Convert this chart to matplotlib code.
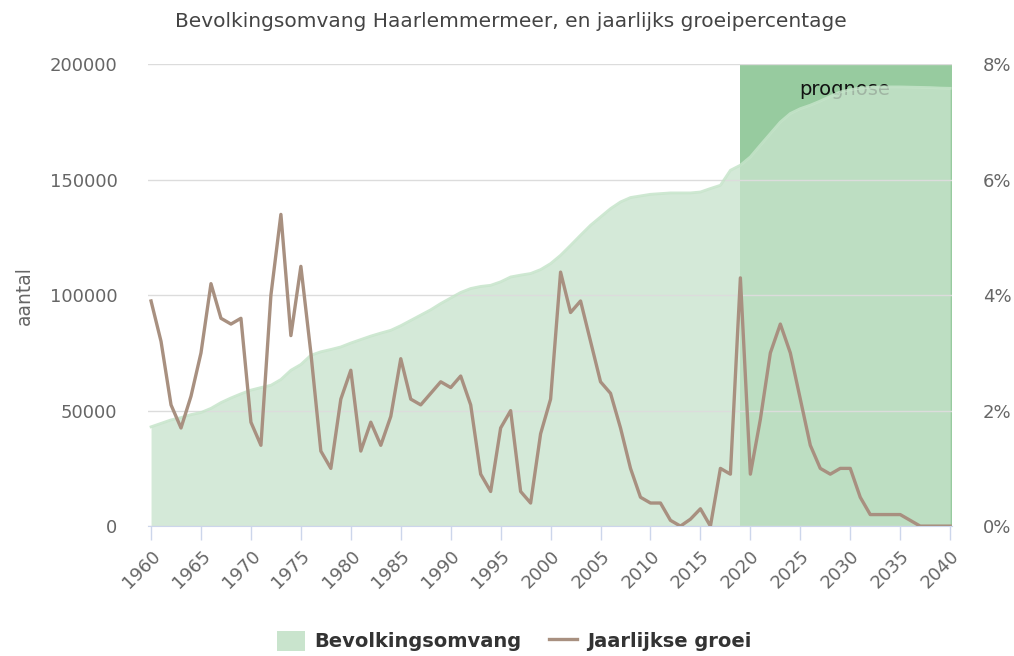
import matplotlib
matplotlib.use("Agg")
from matplotlib import pyplot as plt
from matplotlib.patches import Patch
from matplotlib.lines import Line2D

years = list(range(1960, 2041))

inwoners = [
    43000, 44500, 46000, 47000, 48300, 49200, 51000, 53500, 55500, 57300,
    58900, 60000, 61000, 63500, 67500, 70000, 74000, 75500, 76500, 77600,
    79300, 80800, 82300, 83600, 84800, 86800, 89100, 91400, 93700, 96400,
    98800, 101200, 102900, 103800, 104300, 105800, 107900, 108700, 109400, 111100,
    113700, 117300, 121600, 126000, 130300, 133900, 137500, 140400, 142300, 143000,
    143700, 144000, 144300, 144300, 144300, 144700, 146200, 147600, 154100, 156300,
    159900, 165000, 170000, 175000, 178700, 180800, 182300, 184100, 186100, 188000,
    189000, 189700, 190000, 190200, 190200, 190200, 190100, 190000, 189900, 189700,
    189600,
]

groei = [
    3.9, 3.2, 2.1, 1.7, 2.25, 3.0, 4.2, 3.6, 3.5, 3.6,
    1.8, 1.4, 4.0, 5.4, 3.3, 4.5, 3.0, 1.3, 1.0, 2.2,
    2.7, 1.3, 1.8, 1.4, 1.9, 2.9, 2.2, 2.1, 2.3, 2.5,
    2.4, 2.6, 2.1, 0.9, 0.6, 1.7, 2.0, 0.6, 0.4, 1.6,
    2.2, 4.4, 3.7, 3.9, 3.2, 2.5, 2.3, 1.7, 1.0, 0.5,
    0.4, 0.4, 0.1, 0.0, 0.12, 0.3, 0.0, 1.0, 0.9, 4.3,
    0.9, 1.85, 3.0, 3.5, 3.0, 2.2, 1.4, 1.0, 0.9, 1.0,
    1.0, 0.5, 0.2, 0.2, 0.2, 0.2, 0.1, 0.0, 0.0, 0.0,
    0.0,
]

prognose_start = 2019
y_ticks = [0, 50000, 100000, 150000, 200000]
pct_ticks = [0, 2, 4, 6, 8]

tick_grey = "#666666"
font = "DejaVu Sans"

fig = plt.figure(figsize=(10.14, 6.56), dpi=100)
ax = fig.add_axes([0.146, 0.198, 0.793, 0.704])
ax2 = ax.twinx()

# prognose band
ax.axvspan(prognose_start, 2040.3, color="#97cb9f", zorder=0, lw=0)
ax.text(0.866, 0.946, "prognose", transform=ax.transAxes, ha="center", va="center",
        fontsize=14, family=font, color="#111111", zorder=1)

ax.fill_between(years, inwoners, 0, color="#c9e4cd", alpha=0.78, lw=0, zorder=2)
ax.plot(years, inwoners, color="#c6e4ca", lw=2, alpha=0.85, zorder=3)

ax.set_xlim(1959.7, 2040.2)
ax.set_ylim(0, 200000)
ax.set_yticks(y_ticks)
ax.set_yticklabels([str(v) for v in y_ticks])
ax.set_xticks(list(range(1960, 2041, 5)))
ax.set_xticklabels([str(v) for v in range(1960, 2041, 5)], rotation=45,
                   ha="right", rotation_mode="anchor")
ax.grid(axis="y", color="#dcdcdc", lw=1)
ax.set_axisbelow(False)
for gl in ax.get_ygridlines():
    gl.set_zorder(1.5)

for s in ["top", "right", "left"]:
    ax.spines[s].set_visible(False)
    ax2.spines[s].set_visible(False)
ax.spines["bottom"].set_color("#ccd6eb")
ax2.spines["bottom"].set_visible(False)

ax.tick_params(axis="x", colors="#ccd6eb", length=10, width=1, labelcolor=tick_grey,
               labelsize=13, pad=5)
ax.tick_params(axis="y", length=0, labelcolor=tick_grey, labelsize=13, pad=22)
for lab in ax.get_xticklabels() + ax.get_yticklabels():
    lab.set_family(font)

ax.set_ylabel("aantal", fontsize=13.5, color=tick_grey, family=font)
ax.yaxis.set_label_coords(-0.142, 0.5)

ax2.plot(years, groei, color="#a89080", lw=2.4, zorder=4)
ax2.set_ylim(0, 8)
ax2.set_yticks(pct_ticks)
ax2.set_yticklabels([f"{v}%" for v in pct_ticks])
ax2.tick_params(axis="y", length=0, labelcolor=tick_grey, labelsize=13, pad=22)
for lab in ax2.get_yticklabels():
    lab.set_family(font)

fig.suptitle("Bevolkingsomvang Haarlemmermeer, en jaarlijks groeipercentage",
             x=0.504, y=0.982, fontsize=14.5, color="#444444", family=font)

handles = [Patch(facecolor="#c9e4cd", edgecolor="none", label="Bevolkingsomvang"),
           Line2D([0], [0], color="#a89080", lw=2.4, label="Jaarlijkse groei")]
leg = fig.legend(handles=handles, loc="center", bbox_to_anchor=(0.507, 0.023), ncol=2,
                 frameon=False, handlelength=1.45, handleheight=1.25, handletextpad=0.5,
                 columnspacing=1.4,
                 prop={"family": font, "weight": "bold", "size": 14})
for t in leg.get_texts():
    t.set_color("#333333")

fig.savefig("out.png", dpi=100)
